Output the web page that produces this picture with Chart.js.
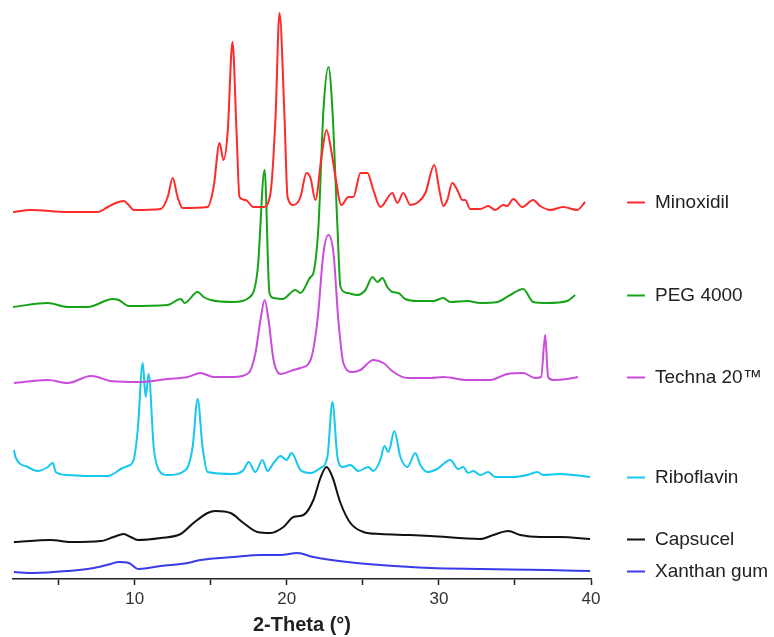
<!DOCTYPE html>
<html>
<head>
<meta charset="utf-8">
<script src="https://cdn.jsdelivr.net/npm/chart.js@4.4.1/dist/chart.umd.min.js"></script>
<style>
  html, body { margin: 0; padding: 0; background: #fff; }
  #wrap { width: 774px; height: 637px; position: relative; }
</style>
</head>
<body>
<div id="wrap"><canvas id="xrd"></canvas></div>
<script>
// 2-Theta (deg), intensity above own baseline (a.u.)
var minoxidil = [[2.0,0],[3.17,2],[5.6,0],[7.57,0],[8.23,5],[8.75,9],[9.28,11],[9.61,7],[9.93,2],[11.71,3],[12.17,15],[12.5,34],[12.82,15],[13.15,4],[14.79,5],[15.19,25],[15.58,69],[15.84,52],[16.11,79],[16.43,170],[16.7,79],[16.89,15],[17.29,12],[17.81,5],[18.47,5],[18.93,19],[19.26,95],[19.52,199],[19.85,95],[20.05,15],[20.44,7],[20.9,15],[21.29,39],[21.56,34],[21.88,12],[22.28,55],[22.61,82],[22.94,60],[23.2,35],[23.59,7],[24.05,15],[24.38,15],[24.84,39],[25.3,39],[25.69,22],[26.15,5],[26.94,19],[27.27,9],[27.66,19],[28.12,7],[28.65,10],[29.11,19],[29.7,47],[30.03,22],[30.29,6],[30.55,12],[30.88,29],[31.21,22],[31.54,12],[31.73,12],[32.06,3],[32.72,3],[33.24,6],[33.7,2],[34.23,7],[34.49,6],[34.89,13],[35.48,5],[36.2,12],[36.66,6],[37.32,2],[38.17,5],[39.09,2],[39.61,10]];
var peg4000 = [[2.0,0],[4.29,4],[5.6,0],[6.91,0],[8.56,8],[8.95,7],[9.61,1],[12.17,2],[13.02,8],[13.28,4],[14.14,15],[14.53,10],[14.99,7],[16.5,5],[17.49,9],[18.08,37],[18.54,137],[18.86,14],[19.13,9],[19.72,8],[20.57,17],[20.9,14],[21.56,30],[21.75,34],[22.08,80],[22.41,197],[22.74,240],[23.0,197],[23.33,80],[23.53,20],[23.99,14],[24.64,12],[25.17,17],[25.63,30],[25.96,25],[26.28,29],[26.61,20],[26.94,15],[27.33,14],[27.79,8],[28.58,6],[29.63,6],[30.29,9],[30.75,5],[31.86,6],[32.72,4],[33.83,5],[34.69,12],[35.54,18],[36.2,5],[37.12,4],[38.43,6],[38.96,12]];
var techna20 = [[2.06,0],[4.29,3],[5.6,0],[7.11,7],[7.57,6],[8.42,2],[10.39,1],[12.17,4],[13.48,6],[14.33,10],[15.19,6],[16.5,6],[17.49,10],[17.94,30],[18.27,63],[18.54,83],[18.8,63],[19.13,23],[19.59,9],[20.44,13],[20.9,15],[21.56,23],[22.02,63],[22.41,130],[22.74,148],[23.07,130],[23.39,63],[23.72,20],[24.31,11],[24.84,13],[25.69,23],[26.35,20],[27.01,11],[27.93,5],[29.44,5],[30.29,6],[31.86,3],[33.37,3],[34.49,9],[35.54,10],[36.33,5],[36.72,6],[36.99,48],[37.18,6],[37.51,3],[38.43,4],[39.15,6]];
var riboflavin = [[2.06,26],[2.19,18],[2.97,9],[3.63,5],[4.29,9],[4.62,13],[4.81,4],[5.6,1],[6.91,0],[8.23,0],[9.21,8],[9.54,10],[9.93,16],[10.2,46],[10.53,113],[10.72,79],[10.92,102],[11.25,29],[11.58,6],[12.17,1],[13.35,6],[13.81,29],[14.14,77],[14.46,29],[14.79,4],[16.5,2],[17.16,6],[17.49,14],[17.94,4],[18.4,16],[18.73,5],[19.13,13],[19.59,20],[19.98,16],[20.31,23],[20.9,6],[21.56,3],[22.21,8],[22.67,19],[23.0,74],[23.33,19],[23.66,9],[24.18,11],[24.71,5],[25.36,9],[25.69,5],[26.15,16],[26.42,30],[26.68,24],[27.07,45],[27.47,19],[27.93,9],[28.45,23],[28.78,11],[29.24,4],[29.89,7],[30.75,16],[31.27,7],[31.6,9],[31.93,3],[32.26,5],[32.72,1],[33.24,4],[33.7,-1],[34.89,-1],[35.8,1],[36.46,4],[36.86,1],[37.97,2],[38.83,1],[39.94,-1]];
var capsucel = [[2.06,-1],[4.48,1],[5.8,-1],[7.77,0],[8.62,4],[9.28,7],[9.74,4],[10.2,1],[11.71,3],[13.02,7],[13.87,18],[14.79,28],[15.32,30],[16.3,28],[17.16,18],[18.08,9],[18.93,8],[19.78,14],[20.44,24],[21.1,26],[21.75,41],[22.21,63],[22.61,74],[23.0,64],[23.53,38],[24.18,18],[25.04,9],[26.15,7],[27.93,6],[29.44,5],[32.72,2],[33.57,6],[34.56,10],[35.35,6],[36.66,4],[37.97,4],[39.94,2]];
var xanthanGum = [[2.06,0],[3.37,-1],[5.6,1],[7.31,4],[8.42,8],[8.95,10],[9.61,9],[10.26,3],[11.71,6],[13.48,9],[14.33,12],[16.5,15],[18.27,17],[19.59,17],[20.7,19],[21.75,15],[23.99,10],[26.15,7],[29.44,4],[32.72,3],[37.12,2],[39.94,1]];

var names = ['Minoxidil', 'PEG 4000', 'Techna 20\u2122', 'Riboflavin', 'Capsucel', 'Xanthan gum'];
var series = [minoxidil, peg4000, techna20, riboflavin, capsucel, xanthanGum];
var offsets = [367, 272, 196, 103, 38, 7];   // vertical stacking of the patterns
var xTicks = [5, 10, 15, 20, 25, 30, 35, 40];
var colors = ['#ff2a2a', '#17a317', '#c94ddb', '#14c8ee', '#111111', '#3a3ae6'];

var FONT = '"Liberation Sans", Arial, sans-serif';

// legend next to the end of each trace
var sideLegend = {
  id: 'sideLegend',
  afterDraw: function(chart) {
    var ctx = chart.ctx, area = chart.chartArea, y = chart.scales.y;
    ctx.save();
    chart.data.datasets.forEach(function(ds) {
      var last = ds.data[ds.data.length - 1];
      var py = Math.round(y.getPixelForValue(last.y)) + 0.5;
      ctx.strokeStyle = ds.borderColor;
      ctx.lineWidth = 2;
      ctx.beginPath();
      ctx.moveTo(area.right + 36, py);
      ctx.lineTo(area.right + 54, py);
      ctx.stroke();
      ctx.fillStyle = '#222';
      ctx.font = '19px ' + FONT;
      ctx.textBaseline = 'middle';
      ctx.fillText(ds.label, area.right + 64, py);
    });
    ctx.restore();
  }
};

new Chart(document.getElementById('xrd'), {
  type: 'line',
  data: {
    datasets: series.map(function(s, i) {
      return {
        label: names[i],
        data: s.map(function(p) { return { x: p[0], y: p[1] + offsets[i] }; }),
        borderColor: colors[i],
        borderWidth: 2,
        pointRadius: 0,
        cubicInterpolationMode: 'monotone',
        fill: false
      };
    })
  },
  options: {
    responsive: true,
    maintainAspectRatio: false,
    animation: false,
    layout: { padding: { left: 13, right: 183, top: 0, bottom: 0 } },
    plugins: { legend: { display: false }, tooltip: { enabled: false } },
    scales: {
      x: {
        type: 'linear',
        min: 2,
        max: 40,
        afterBuildTicks: function(scale) {
          scale.ticks = xTicks.map(function(v) { return { value: v }; });
        },
        afterFit: function(scale) { scale.height = 58; },
        border: { display: true, color: '#222', width: 1.5 },
        grid: { drawOnChartArea: false, drawTicks: true, tickLength: 6, tickColor: '#222', tickWidth: 1.5 },
        ticks: {
          autoSkip: false,
          maxRotation: 0,
          padding: 4,
          color: '#333',
          font: { family: FONT, size: 17 },
          callback: function(v) { return v % 10 === 0 ? v : ''; }
        },
        title: {
          display: true,
          text: '2-Theta (\u00b0)',
          color: '#222',
          font: { family: FONT, size: 20, weight: 'bold' },
          padding: { top: 0, bottom: 0 }
        }
      },
      y: {
        display: false,
        min: 0,
        max: 579
      }
    }
  },
  plugins: [sideLegend]
});
</script>
</body>
</html>
